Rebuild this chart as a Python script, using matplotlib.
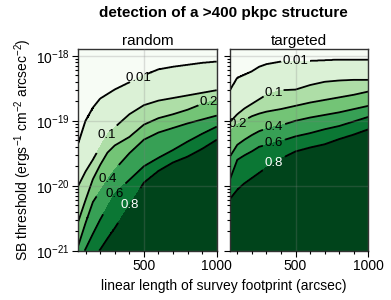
#!/usr/bin/env python3
''' Detection fraction of a >400 pkpc structure vs survey size and SB limit
'''

import numpy as np
import matplotlib
matplotlib.use('Agg')
from matplotlib import pyplot
from matplotlib.ticker import MultipleLocator

#
# data (log10 SB threshold where each
# detection-fraction contour sits, at each survey length)
#

length = [50, 100, 150, 200, 250, 300, 400, 500, 600, 700, 800, 900, 1000]
frac_levels = [0.01, 0.1, 0.2, 0.4, 0.6, 0.8]

random_logsb = {
    0.01: [-19.35, -19.00, -18.80, -18.66, -18.59, -18.52, -18.41, -18.30,
           -18.21, -18.17, -18.14, -18.11, -18.09],
    0.1:  [-20.00, -19.78, -19.60, -19.40, -19.21, -19.10, -18.90, -18.76,
           -18.69, -18.65, -18.61, -18.57, -18.53],
    0.2:  [-20.55, -20.22, -19.90, -19.68, -19.49, -19.38, -19.25, -19.06,
           -18.96, -18.90, -18.83, -18.74, -18.68],
    0.4:  [-20.92, -20.57, -20.25, -20.08, -19.91, -19.75, -19.50, -19.29,
           -19.18, -19.11, -19.04, -18.98, -18.92],
    0.6:  [-21.20, -20.97, -20.74, -20.52, -20.32, -20.12, -19.91, -19.70,
           -19.57, -19.45, -19.32, -19.20, -19.09],
    0.8:  [-21.60, -21.35, -21.13, -20.98, -20.81, -20.65, -20.30, -19.95,
           -19.77, -19.64, -19.55, -19.43, -19.29],
}

targeted_logsb = {
    0.01: [-18.53, -18.34, -18.29, -18.24, -18.17, -18.13, -18.09, -18.08,
           -18.08, -18.07, -18.06, -18.06, -18.06],
    0.1:  [-19.02, -18.90, -18.81, -18.74, -18.67, -18.60, -18.53, -18.52,
           -18.45, -18.40, -18.38, -18.37, -18.37],
    0.2:  [-19.15, -19.06, -18.99, -18.93, -18.89, -18.86, -18.82, -18.77,
           -18.72, -18.68, -18.64, -18.60, -18.55],
    0.4:  [-19.55, -19.37, -19.29, -19.22, -19.16, -19.12, -19.07, -19.00,
           -18.95, -18.91, -18.87, -18.82, -18.77],
    0.6:  [-19.90, -19.60, -19.53, -19.47, -19.40, -19.37, -19.31, -19.24,
           -19.19, -19.13, -19.08, -19.01, -18.94],
    0.8:  [-20.20, -20.06, -19.96, -19.88, -19.80, -19.72, -19.58, -19.47,
           -19.41, -19.36, -19.28, -19.21, -19.13],
}

# where the inline labels sit (length, log10 SB)
random_label_pos = [(451, -18.33), (245, -19.22), (940, -18.66),
                    (252, -19.90), (297, -20.13), (400, -20.24)]
targeted_label_pos = [(497, -18.08), (345, -18.56), (105, -19.10),
                      (352, -19.08), (352, -19.33), (352, -19.64)]

#
# functions
#

def fraction_grid(logsb, xf, logy):
    ''' build the fraction table contourf needs from the contour heights '''
    heights = {l: np.interp(xf, length, logsb[l]) for l in frac_levels}
    z = np.zeros((len(logy), len(xf)))
    fp = [1.0] + frac_levels[::-1] + [0.0]
    for j in range(len(xf)):
        xp = [-23.0] + [heights[l][j] for l in frac_levels[::-1]] + [-17.0]
        z[:, j] = np.interp(logy, xp, fp)
    return z


#
# main
#

if __name__ == '__main__':

    pyplot.rcParams['font.family'] = ['Liberation Sans', 'DejaVu Sans']
    pyplot.rcParams['mathtext.fontset'] = 'custom'
    pyplot.rcParams['mathtext.rm'] = 'Liberation Sans'
    pyplot.rcParams['mathtext.it'] = 'Liberation Sans:italic'
    pyplot.rcParams['mathtext.bf'] = 'Liberation Sans:bold'

    fill_levels = [0.0] + frac_levels + [1.0]
    fill_colors = pyplot.cm.Greens(np.linspace(0, 1, len(fill_levels) - 1))
    fmt = {l: '{:g}'.format(l) for l in frac_levels}

    xf = np.linspace(50, 1000, 381)
    logy = np.linspace(-21.0, -17.9, 621)
    xx, yy = np.meshgrid(xf, 10 ** logy)

    fig = pyplot.figure(figsize=(3.91, 3.0), dpi=100)
    ax1 = fig.add_axes([0.2003, 0.1643, 0.354, 0.6713])
    ax2 = fig.add_axes([0.5882, 0.1643, 0.354, 0.6713])

    panels = [(ax1, random_logsb, random_label_pos, 'random'),
              (ax2, targeted_logsb, targeted_label_pos, 'targeted')]

    for ax, logsb, lpos, name in panels:
        z = fraction_grid(logsb, xf, logy)
        ax.contourf(xx, yy, z, levels=fill_levels, colors=fill_colors)
        cs = ax.contour(xx, yy, z, levels=frac_levels, colors='k',
                        linewidths=1.3)
        manual = [(x, 10 ** y) for x, y in lpos]
        labels = ax.clabel(cs, fmt=fmt, fontsize=9.5, inline=True,
                           inline_spacing=2, manual=manual)
        for t in labels:
            t.set_rotation(0)
            t.set_clip_path(ax.patch)
            t.set_clip_on(True)
            if t.get_text() == '0.8':
                t.set_color('white')

        ax.set_yscale('log')
        ax.set_xlim(50, 1000)
        ax.set_ylim(1e-21, 10 ** -17.9)
        ax.xaxis.set_major_locator(MultipleLocator(500))
        ax.xaxis.set_minor_locator(MultipleLocator(100))
        ax.set_axisbelow(False)
        ax.grid(True, which='major', color='gray', alpha=0.25, lw=1)
        ax.tick_params(which='both', direction='out', labelsize=10,
                       width=0.8, pad=2)
        ax.tick_params(which='major', length=4)
        ax.tick_params(which='minor', length=2.5)
        for s in ax.spines.values():
            s.set_linewidth(1.0)
            s.set_color('0.2')
        ax.set_title(name, fontsize=11, pad=3)

    ax2.tick_params(axis='y', which='both', labelleft=False)
    ax1.set_ylabel('SB threshold (ergs$^{-1}$ cm$^{-2}$ arcsec$^{-2}$)',
                   fontsize=10, labelpad=2)
    fig.text(0.571, 0.048, 'linear length of survey footprint (arcsec)',
             ha='center', va='center', fontsize=10)
    fig.text(0.571, 0.955, 'detection of a >400 pkpc structure',
             ha='center', va='center', fontsize=11, fontweight='bold')

    fig.savefig('out.png', dpi=100)
